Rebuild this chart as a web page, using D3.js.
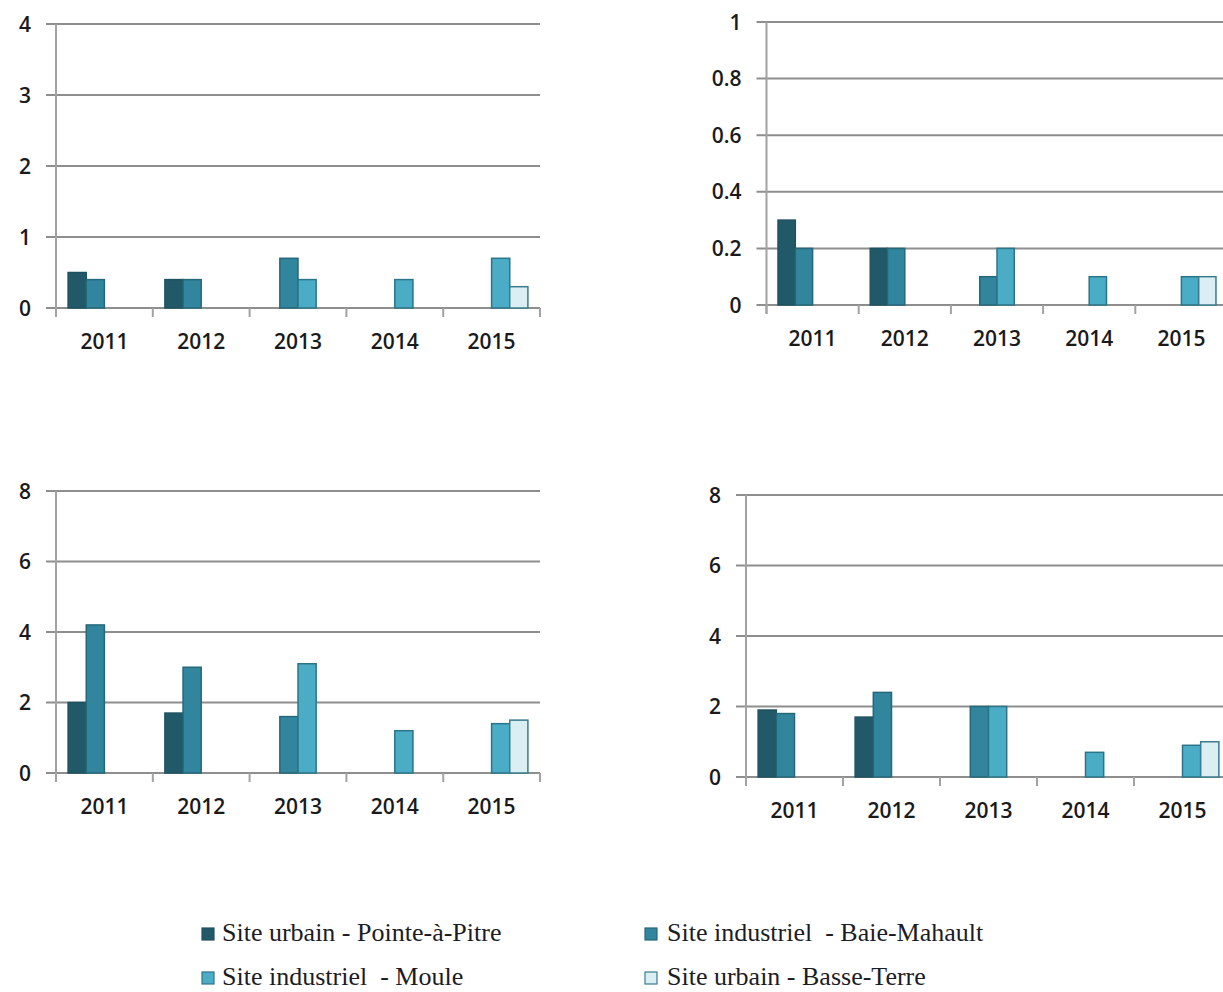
<!DOCTYPE html>
<html>
<head>
<meta charset="utf-8">
<script src="https://cdn.jsdelivr.net/npm/d3@7/dist/d3.min.js"></script>
<style>
  html, body { margin: 0; padding: 0; background: #fff; }
  svg { display: block; }
  .tick-label { font-family: "Open Sans", Lato, sans-serif; font-weight: 600; font-size: 21px; fill: #1a1a1a; }
  .legend-label { font-family: "Liberation Serif", "Times New Roman", serif; font-size: 26px; fill: #1c1c24; white-space: pre; }
</style>
</head>
<body>
<svg id="chart" width="1223" height="992"></svg>
<script>
// Years on the category axis
const years = ["2011", "2012", "2013", "2014", "2015"];

// Monitoring sites (one bar series each)
const sites = [
  "Site urbain - Pointe-à-Pitre",
  "Site industriel  - Baie-Mahault",
  "Site industriel  - Moule",
  "Site urbain - Basse-Terre"
];
const siteColors = ["#215968", "#31859c", "#4bacc6", "#daeef3"];
const siteStrokes = ["#1f5260", "#25687a", "#2c7588", "#3a7c8c"];

// Panel 1 (top left)
const p1PointeAPitre = [0.5, 0.4, null, null, null];
const p1BaieMahault  = [0.4, 0.4, 0.7, null, null];
const p1Moule        = [null, null, 0.4, 0.4, 0.7];
const p1BasseTerre   = [null, null, null, null, 0.3];
const p1Ticks = [0, 1, 2, 3, 4];

// Panel 2 (top right)
const p2PointeAPitre = [0.3, 0.2, null, null, null];
const p2BaieMahault  = [0.2, 0.2, 0.1, null, null];
const p2Moule        = [null, null, 0.2, 0.1, 0.1];
const p2BasseTerre   = [null, null, null, null, 0.1];
const p2Ticks = [0, 0.2, 0.4, 0.6, 0.8, 1];

// Panel 3 (bottom left)
const p3PointeAPitre = [2.0, 1.7, null, null, null];
const p3BaieMahault  = [4.2, 3.0, 1.6, null, null];
const p3Moule        = [null, null, 3.1, 1.2, 1.4];
const p3BasseTerre   = [null, null, null, null, 1.5];
const p3Ticks = [0, 2, 4, 6, 8];

// Panel 4 (bottom right)
const p4PointeAPitre = [1.9, 1.7, null, null, null];
const p4BaieMahault  = [1.8, 2.4, 2.0, null, null];
const p4Moule        = [null, null, 2.0, 0.7, 0.9];
const p4BasseTerre   = [null, null, null, null, 1.0];
const p4Ticks = [0, 2, 4, 6, 8];

const svg = d3.select("#chart");

const panels = [
  { series: [p1PointeAPitre, p1BaieMahault, p1Moule, p1BasseTerre], ticks: p1Ticks,
    x0: 56, x1: 540, yTop: 24, yBottom: 308 },
  { series: [p2PointeAPitre, p2BaieMahault, p2Moule, p2BasseTerre], ticks: p2Ticks,
    x0: 766.5, x1: 1227.5, yTop: 22, yBottom: 305 },
  { series: [p3PointeAPitre, p3BaieMahault, p3Moule, p3BasseTerre], ticks: p3Ticks,
    x0: 56, x1: 540, yTop: 491, yBottom: 773 },
  { series: [p4PointeAPitre, p4BaieMahault, p4Moule, p4BasseTerre], ticks: p4Ticks,
    x0: 746, x1: 1231, yTop: 495, yBottom: 777 }
];

panels.forEach(p => {
  const g = svg.append("g");
  const tickMax = p.ticks[p.ticks.length - 1];

  const x = d3.scaleBand().domain(years).range([p.x0, p.x1])
    .paddingInner(0.25).paddingOuter(0.125);
  const xs = d3.scaleBand().domain(d3.range(sites.length)).range([0, x.bandwidth()]);
  const y = d3.scaleLinear().domain([0, tickMax]).range([p.yBottom, p.yTop]);

  // Horizontal gridlines (with short outer ticks on the left)
  g.append("g").selectAll("line").data(p.ticks).join("line")
    .attr("x1", p.x0 - 10).attr("x2", p.x1)
    .attr("y1", d => y(d)).attr("y2", d => y(d))
    .attr("stroke", "#8e8e8e").attr("stroke-width", 2);

  // Value axis line
  g.append("line")
    .attr("x1", p.x0).attr("x2", p.x0)
    .attr("y1", y(tickMax)).attr("y2", y(0) + 9)
    .attr("stroke", "#a2a2a2").attr("stroke-width", 2);

  // Category boundary ticks
  const bounds = years.map(yr => x(yr) - x.step() * x.paddingOuter()).concat([p.x1]);
  g.append("g").selectAll("line").data(bounds).join("line")
    .attr("x1", d => d).attr("x2", d => d)
    .attr("y1", y(0)).attr("y2", y(0) + 9)
    .attr("stroke", "#a2a2a2").attr("stroke-width", 2);

  // Value labels
  g.append("g").selectAll("text").data(p.ticks).join("text")
    .attr("class", "tick-label")
    .attr("x", p.x0 - 25).attr("y", d => y(d)).attr("dy", "0.36em")
    .attr("text-anchor", "end")
    .text(d => String(d));

  // Year labels
  g.append("g").selectAll("text").data(years).join("text")
    .attr("class", "tick-label")
    .attr("x", d => x(d) + x.bandwidth() / 2).attr("y", y(0) + 41)
    .attr("text-anchor", "middle")
    .text(d => d);

  // Bars
  p.series.forEach((vals, si) => {
    const data = years.map((yr, i) => ({ yr, v: vals[i] })).filter(d => d.v != null);
    g.append("g").selectAll("rect").data(data).join("rect")
      .attr("x", d => x(d.yr) + xs(si))
      .attr("width", xs.bandwidth())
      .attr("y", d => y(d.v))
      .attr("height", d => y(0) - y(d.v))
      .attr("fill", siteColors[si])
      .attr("stroke", siteStrokes[si])
      .attr("stroke-width", 1.5);
  });
});

// Legend, two columns by two rows
const legendPos = [
  { x: 202, y: 941 },
  { x: 645, y: 941 },
  { x: 202, y: 985 },
  { x: 645, y: 985 }
];
const lg = svg.append("g");
sites.forEach((name, i) => {
  const pos = legendPos[i];
  lg.append("rect")
    .attr("x", pos.x).attr("y", pos.y - 13)
    .attr("width", 12).attr("height", 12)
    .attr("fill", siteColors[i])
    .attr("stroke", siteStrokes[i]).attr("stroke-width", 1.2);
  lg.append("text")
    .attr("class", "legend-label")
    .attr("x", pos.x + (i % 2 === 0 ? 20 : 22)).attr("y", pos.y)
    .text(name);
});
</script>
</body>
</html>
